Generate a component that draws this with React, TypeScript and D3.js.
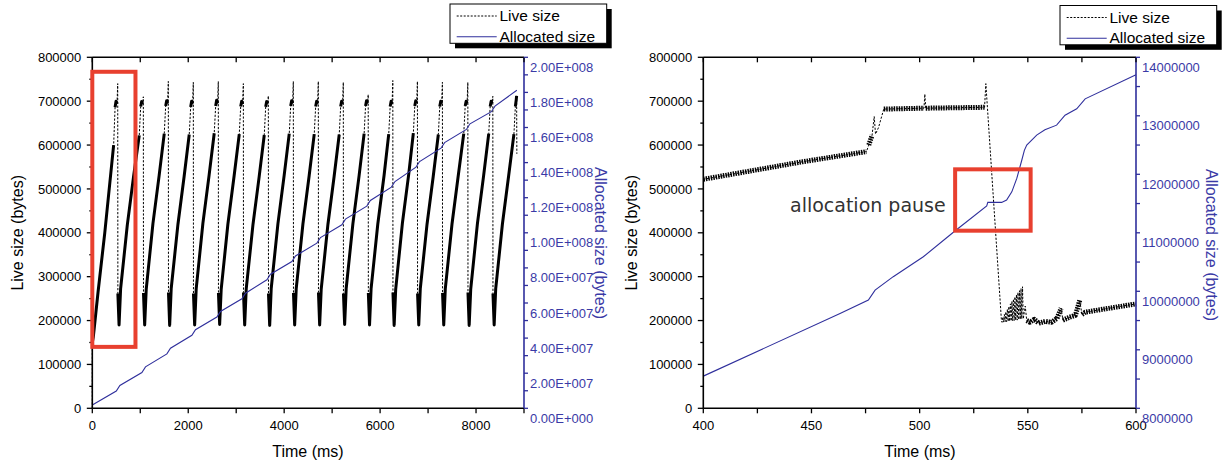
import React from 'react';
import * as d3 from 'd3';

type Pt = [number, number];

// ---- Overview run (0 – 9000 ms): live heap size, bytes ----
const liveOverview: Pt[] = [
  [0, 0], [0, 150000], [20, 162000], [120, 265000], [260, 400000], [445, 600000], [475, 686000], [495, 700000], [515, 694000], [530, 740000],
  [533, 262000], [558, 190000], [590, 272000], [730, 418000], [860, 528000], [979, 622000], [1009, 688000], [1029, 699000], [1049, 694000], [1064, 710000],
  [1067, 263000], [1092, 190000], [1124, 271000], [1264, 421000], [1394, 531000], [1500, 626000], [1530, 689000], [1550, 701000], [1570, 695000], [1585, 745000],
  [1588, 264000], [1613, 189000], [1645, 273000], [1785, 419000], [1915, 529000], [2021, 624000], [2051, 687000], [2071, 700000], [2091, 694000], [2106, 743000],
  [2109, 262000], [2134, 190000], [2166, 272000], [2306, 422000], [2436, 532000], [2542, 627000], [2572, 689000], [2592, 702000], [2612, 695000], [2627, 745000],
  [2630, 263000], [2655, 191000], [2687, 271000], [2827, 420000], [2957, 530000], [3064, 625000], [3094, 688000], [3114, 700000], [3134, 693000], [3149, 740000],
  [3152, 264000], [3177, 190000], [3209, 272000], [3349, 418000], [3479, 528000], [3585, 623000], [3615, 687000], [3635, 699000], [3655, 694000], [3670, 712000],
  [3673, 262000], [3698, 189000], [3730, 273000], [3870, 421000], [4000, 531000], [4106, 626000], [4136, 689000], [4156, 701000], [4176, 695000], [4191, 745000],
  [4194, 263000], [4219, 190000], [4251, 272000], [4391, 420000], [4521, 530000], [4627, 625000], [4657, 688000], [4677, 700000], [4697, 694000], [4712, 745000],
  [4715, 264000], [4740, 190000], [4772, 271000], [4912, 419000], [5042, 529000], [5148, 624000], [5178, 688000], [5198, 700000], [5218, 694000], [5233, 743000],
  [5236, 262000], [5261, 191000], [5293, 273000], [5433, 421000], [5563, 531000], [5667, 626000], [5697, 689000], [5717, 701000], [5737, 695000], [5752, 715000],
  [5755, 263000], [5780, 190000], [5812, 272000], [5952, 420000], [6082, 530000], [6180, 625000], [6210, 688000], [6230, 700000], [6250, 694000], [6265, 747000],
  [6268, 264000], [6293, 189000], [6325, 271000], [6465, 422000], [6595, 532000], [6693, 627000], [6723, 689000], [6743, 701000], [6763, 695000], [6778, 745000],
  [6781, 262000], [6806, 190000], [6838, 273000], [6978, 419000], [7108, 529000], [7214, 624000], [7244, 688000], [7264, 700000], [7284, 694000], [7299, 743000],
  [7302, 263000], [7327, 190000], [7359, 272000], [7499, 420000], [7629, 530000], [7744, 626000], [7774, 689000], [7794, 700000], [7814, 695000], [7829, 743000],
  [7832, 264000], [7857, 189000], [7889, 271000], [8029, 421000], [8159, 531000], [8265, 626000], [8295, 688000], [8315, 700000], [8335, 695000], [8350, 711000],
  [8353, 262000], [8378, 190000], [8410, 272000], [8550, 420000], [8680, 530000], [8790, 625000], [8820, 688000], [8838, 703000], [8846, 712000], [8851, 580000],
];

// ---- Overview run: cumulative allocated bytes ----
const allocOverview: Pt[] = [
  [0, 1.9e6], [500, 9.8e6], [575, 13.0e6], [1034, 20.4e6], [1109, 23.6e6], [1555, 31.0e6], [1630, 34.2e6],
  [2076, 41.6e6], [2151, 44.8e6], [2597, 52.0e6], [2672, 55.2e6], [3119, 62.4e6], [3194, 65.6e6],
  [3640, 73.2e6], [3715, 76.4e6], [4161, 83.6e6], [4236, 86.8e6], [4682, 94.1e6], [4757, 97.3e6],
  [5203, 104.6e6], [5278, 107.8e6], [5722, 115.2e6], [5797, 118.4e6], [6235, 126.0e6], [6310, 129.2e6],
  [6748, 137.4e6], [6823, 140.6e6], [7269, 148.2e6], [7344, 151.4e6], [7799, 158.9e6], [7874, 162.1e6],
  [8320, 169.0e6], [8395, 172.2e6], [8851, 181.2e6],
];

// ---- Detail window (400 – 600 ms): live heap size ----
const liveDetail: Pt[] = [
  [400, 522000], [446, 562000], [475.4, 585000], [476.5, 600000], [478, 622000], [479, 665000], [479.6, 625000],
  [481, 640000], [483.4, 682000], [502, 684000], [502.4, 716000], [502.8, 684000], [530, 686000], [530.6, 740000],
  [537.8, 200000],
  [538.1, 196000], [538.45, 208000], [538.8, 196500], [539.15, 214000], [539.5, 197000], [539.85, 220000],
  [540.2, 197500], [540.55, 226000], [540.9, 198000], [541.25, 232000], [541.6, 198500], [541.95, 238000],
  [542.3, 199000], [542.65, 244000], [543.0, 199500], [543.35, 249000], [543.7, 200000], [544.05, 254000],
  [544.4, 200500], [544.75, 259000], [545.1, 201000], [545.45, 264000], [545.8, 202000], [546.15, 268000],
  [546.5, 203000], [546.85, 273000], [547.2, 204000], [547.55, 277000], [547.9, 204000],
  [548.8, 233000], [549.5, 200000], [551, 196000], [553, 203000], [555, 194000], [558, 198000], [561, 196000],
  [563.5, 205000], [565.4, 228000], [566.2, 201000], [569, 207000], [572, 212000], [574, 246000], [575, 214000],
  [576.5, 219000], [580, 222000], [590, 230000], [600, 238000],
];

// ---- Detail window: cumulative allocated bytes (flat stretch = allocation pause) ----
const allocDetail: Pt[] = [
  [400, 8.55e6], [463.2, 9.62e6], [476.3, 9.85e6], [479.4, 10.02e6], [487.8, 10.25e6], [501.7, 10.59e6],
  [516.3, 11.03e6], [531.0, 11.46e6], [531.5, 11.52e6], [537.9, 11.52e6], [540.2, 11.56e6], [542.6, 11.70e6],
  [544.9, 11.93e6], [547.2, 12.24e6], [548.4, 12.41e6], [549.5, 12.50e6], [554.1, 12.67e6], [557.9, 12.76e6],
  [563.3, 12.84e6], [567.2, 13.01e6], [572.6, 13.12e6], [576.5, 13.29e6], [600, 13.70e6],
];

// ---- Axis ticks ----
const overviewTimeTicks = [0, 2000, 4000, 6000, 8000];
const detailTimeTicks = [400, 450, 500, 550, 600];
const liveTicks = [0, 100000, 200000, 300000, 400000, 500000, 600000, 700000, 800000];
const allocOverviewTicks = [0, 2e7, 4e7, 6e7, 8e7, 1e8, 1.2e8, 1.4e8, 1.6e8, 1.8e8, 2e8];
const allocDetailTicks = [8e6, 9e6, 1e7, 1.1e7, 1.2e7, 1.3e7, 1.4e7];

const SANS = '"Liberation Sans", Arial, Helvetica, sans-serif';
const BLUE = '#2f2f9c';
const BLUE_TEXT = '#3a3aa6';
const RED = '#e8402f';
const TOP = 57.3;
const BOTTOM = 408.3;

// "2.00E+008" style used by the overview's allocated-size axis
const sci = (v: number) => {
  const [m, e] = v.toExponential(2).split('e');
  const n = parseInt(e, 10);
  return `${m}E${n < 0 ? '-' : '+'}${String(Math.abs(n)).padStart(3, '0')}`;
};

// A stretch of the live-size trace is densely sampled when it stays in the body of a
// sawtooth (below ~630 KB) or in the plateau near the top; spikes and drops are sparse.
function isDense(a: Pt, b: Pt) {
  if (b[0] - a[0] < 1.5) return false;
  if (a[1] <= 630000 && b[1] <= 630000) return true;
  return a[1] >= 680000 && b[1] >= 680000 && Math.abs(b[1] - a[1]) <= 15000;
}

function denseRuns(pts: Pt[]): Pt[][] {
  const runs: Pt[][] = [];
  let cur: Pt[] | null = null;
  for (let i = 1; i < pts.length; i++) {
    if (isDense(pts[i - 1], pts[i])) {
      if (!cur) {
        cur = [pts[i - 1]];
        runs.push(cur);
      }
      cur.push(pts[i]);
    } else cur = null;
  }
  return runs;
}

interface PanelProps {
  left: number;
  right: number;
  xDomain: [number, number];
  xLabels: number[];
  xMinorStep: number;
  allocDomain: [number, number];
  allocTicks: number[];
  allocMinorStep: number;
  allocFormat: (v: number) => string;
  live: Pt[];
  alloc: Pt[];
  denseWidth: number;
  denseDash?: string;
  legendX: number;
  legendY: number;
  liveTitleX: number;
  allocTitleX: number;
  allocTitleY: number;
  timeTitleX: number;
  box: { t0: number; t1: number; v0: number; v1: number; axis: 'live' | 'alloc' };
}

function Panel(p: PanelProps) {
  const x = d3.scaleLinear().domain(p.xDomain).range([p.left, p.right]);
  const yL = d3.scaleLinear().domain([0, 800000]).range([BOTTOM, TOP]);
  const yR = d3.scaleLinear().domain(p.allocDomain).range([BOTTOM, TOP]);

  const liveLine = d3.line<Pt>().x((d) => x(d[0])).y((d) => yL(d[1]));
  const allocLine = d3.line<Pt>().x((d) => x(d[0])).y((d) => yR(d[1]));

  const xMinor = d3.range(p.xDomain[0], p.xDomain[1] + p.xMinorStep / 2, p.xMinorStep);
  const liveMinor = d3.range(0, 800001, 50000);
  const allocMinor = d3.range(p.allocDomain[0], p.allocDomain[1] + p.allocMinorStep / 2, p.allocMinorStep);

  const by = p.box.axis === 'live' ? yL : yR;
  const bx0 = x(p.box.t0);
  const bx1 = x(p.box.t1);
  const by0 = by(p.box.v1);
  const by1 = by(p.box.v0);

  const lw = 156.7;
  const lh = 39.3;

  return (
    <g>
      {/* live size: sparse samples as a dotted trace, dense stretches as a heavy band */}
      <path d={liveLine(p.live) ?? ''} fill="none" stroke="#000" strokeWidth={1} strokeDasharray="2.2 1.6" />
      {denseRuns(p.live).map((run, i) => (
        <path
          key={i}
          d={liveLine(run) ?? ''}
          fill="none"
          stroke="#000"
          strokeWidth={p.denseWidth}
          strokeDasharray={p.denseDash}
          strokeLinejoin="round"
        />
      ))}
      <path d={allocLine(p.alloc) ?? ''} fill="none" stroke={BLUE} strokeWidth={1.1} />

      {/* frame: bottom, left, top in black; right axis in blue */}
      <line x1={p.left} x2={p.right} y1={BOTTOM} y2={BOTTOM} stroke="#000" strokeWidth={1.6} />
      <line x1={p.left} x2={p.right} y1={TOP} y2={TOP} stroke="#000" strokeWidth={1.6} />
      <line x1={p.left} x2={p.left} y1={TOP} y2={BOTTOM} stroke="#000" strokeWidth={1.6} />
      <line x1={p.right} x2={p.right} y1={TOP} y2={BOTTOM} stroke={BLUE} strokeWidth={1.6} />

      {xMinor.map((t) => (
        <g key={`xt${t}`}>
          <line x1={x(t)} x2={x(t)} y1={BOTTOM} y2={BOTTOM + 5} stroke="#000" strokeWidth={1.3} />
          <line x1={x(t)} x2={x(t)} y1={TOP} y2={TOP + 5} stroke="#000" strokeWidth={1.3} />
        </g>
      ))}
      {p.xLabels.map((t) => (
        <text key={`xl${t}`} x={x(t)} y={429.5} textAnchor="middle" fontFamily={SANS} fontSize={13} fill="#000">
          {t}
        </text>
      ))}

      {liveMinor.map((v) => (
        <line
          key={`yt${v}`}
          x1={p.left - (v % 100000 === 0 ? 5.5 : 3)}
          x2={p.left}
          y1={yL(v)}
          y2={yL(v)}
          stroke="#000"
          strokeWidth={1.3}
        />
      ))}
      {liveTicks.map((v) => (
        <text key={`yl${v}`} x={p.left - 11} y={yL(v) + 4.6} textAnchor="end" fontFamily={SANS} fontSize={13} fill="#000">
          {v}
        </text>
      ))}

      {allocMinor.map((v) => (
        <line key={`rt${v}`} x1={p.right} x2={p.right + 4} y1={yR(v)} y2={yR(v)} stroke={BLUE} strokeWidth={1.3} />
      ))}
      {p.allocTicks.map((v) => (
        <text key={`rl${v}`} x={p.right + 6} y={yR(v) + 14.5} fontFamily={SANS} fontSize={13} fill={BLUE_TEXT}>
          {p.allocFormat(v)}
        </text>
      ))}

      {/* axis titles */}
      <text
        transform={`translate(${p.liveTitleX},${(TOP + BOTTOM) / 2}) rotate(-90)`}
        textAnchor="middle"
        dominantBaseline="central"
        fontFamily={SANS}
        fontSize={16}
        fill="#000"
      >
        Live size (bytes)
      </text>
      <text
        transform={`translate(${p.allocTitleX},${p.allocTitleY}) rotate(90)`}
        textAnchor="middle"
        dominantBaseline="central"
        fontFamily={SANS}
        fontSize={16}
        fill={BLUE_TEXT}
      >
        Allocated size (bytes)
      </text>
      <text x={p.timeTitleX} y={456.5} textAnchor="middle" fontFamily={SANS} fontSize={16} fill="#000">
        Time (ms)
      </text>

      {/* highlighted region */}
      <rect x={bx0} y={by0} width={bx1 - bx0} height={by1 - by0} fill="none" stroke={RED} strokeWidth={4} />

      {/* legend with drop shadow */}
      <rect x={p.legendX + 5} y={p.legendY + 5} width={lw} height={lh} fill="#000" />
      <rect x={p.legendX} y={p.legendY} width={lw} height={lh} fill="#fff" stroke="#000" strokeWidth={1} />
      <line
        x1={p.legendX + 6.7}
        x2={p.legendX + 46.7}
        y1={p.legendY + 12}
        y2={p.legendY + 12}
        stroke="#000"
        strokeWidth={1}
        strokeDasharray="2 1.5"
      />
      <text x={p.legendX + 49.5} y={p.legendY + 17} fontFamily={SANS} fontSize={15.5} fill="#000">
        Live size
      </text>
      <line
        x1={p.legendX + 6.7}
        x2={p.legendX + 46.7}
        y1={p.legendY + 32.7}
        y2={p.legendY + 32.7}
        stroke={BLUE}
        strokeWidth={1.1}
      />
      <text x={p.legendX + 49.5} y={p.legendY + 37.5} fontFamily={SANS} fontSize={15.5} fill="#000">
        Allocated size
      </text>
    </g>
  );
}

export default function App() {
  return (
    <svg
      width={1222}
      height={460}
      viewBox="0 0 1222 460"
      style={{ position: 'absolute', left: 0, top: 0, background: '#fff' }}
    >
      <rect x={0} y={0} width={1222} height={460} fill="#fff" />
      <Panel
        left={92.3}
        right={524}
        xDomain={[0, 9000]}
        xLabels={overviewTimeTicks}
        xMinorStep={1000}
        allocDomain={[0, 2e8]}
        allocTicks={allocOverviewTicks}
        allocMinorStep={1e7}
        allocFormat={sci}
        live={liveOverview}
        alloc={allocOverview}
        denseWidth={3}
        legendX={450}
        legendY={4}
        liveTitleX={17}
        allocTitleX={600}
        allocTitleY={243}
        timeTitleX={308}
        box={{ t0: 0, t1: 900, v0: 140000, v1: 767000, axis: 'live' }}
      />
      <Panel
        left={703.3}
        right={1136}
        xDomain={[400, 600]}
        xLabels={detailTimeTicks}
        xMinorStep={25}
        allocDomain={[8e6, 14e6]}
        allocTicks={allocDetailTicks}
        allocMinorStep={5e5}
        allocFormat={(v) => String(v)}
        live={liveDetail}
        alloc={allocDetail}
        denseWidth={5}
        denseDash="1.5 1"
        legendX={1060}
        legendY={5.5}
        liveTitleX={631}
        allocTitleX={1211}
        allocTitleY={245}
        timeTitleX={920}
        box={{ t0: 516.4, t1: 551.3, v0: 11.036e6, v1: 12.085e6, axis: 'alloc' }}
      />
      <text x={790} y={211.5} fontFamily='"DejaVu Sans", sans-serif' fontSize={19} fill="#333">
        allocation pause
      </text>
    </svg>
  );
}
